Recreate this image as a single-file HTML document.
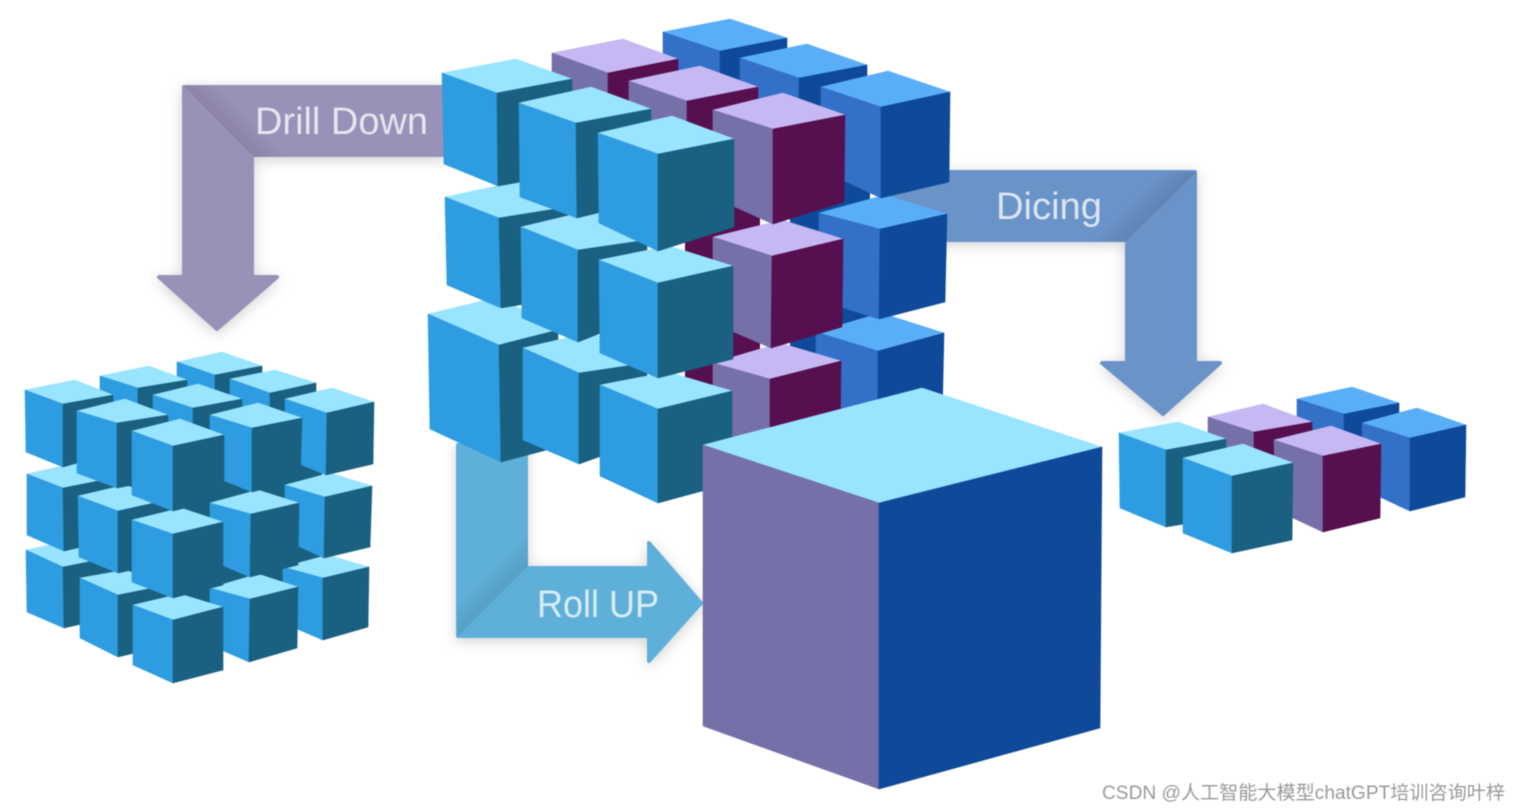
<!DOCTYPE html>
<html><head><meta charset="utf-8"><title>OLAP cube operations</title>
<style>
html,body{margin:0;padding:0;background:#fff;width:1520px;height:812px;overflow:hidden}
svg{display:block;filter:blur(.4px)}
.c polygon{stroke-width:.6;stroke-linejoin:round}
.a polygon:nth-child(1){fill:#99e4ff;stroke:#99e4ff}
.a polygon:nth-child(2){fill:#2e9ce0;stroke:#2e9ce0}
.a polygon:nth-child(3){fill:#1a6080;stroke:#1a6080}
.p polygon:nth-child(1){fill:#c6b8f2;stroke:#c6b8f2}
.p polygon:nth-child(2){fill:#7670a8;stroke:#7670a8}
.p polygon:nth-child(3){fill:#56104f;stroke:#56104f}
.b polygon:nth-child(1){fill:#5aaef8;stroke:#5aaef8}
.b polygon:nth-child(2){fill:#3370c8;stroke:#3370c8}
.b polygon:nth-child(3){fill:#0f4a9a;stroke:#0f4a9a}
.z polygon:nth-child(1){fill:#99e4ff;stroke:#99e4ff}
.z polygon:nth-child(2){fill:#7670a8;stroke:#7670a8}
.z polygon:nth-child(3){fill:#0f4a9a;stroke:#0f4a9a}
.lbl{font-family:"Liberation Sans",sans-serif;fill:#fff;fill-opacity:.76}
.wm{font-family:"Liberation Sans","Noto Sans CJK SC",sans-serif;fill:#999}
</style></head><body>
<svg width="1520" height="812" viewBox="0 0 1520 812" xmlns="http://www.w3.org/2000/svg">
<defs>
<filter id="sh" x="-20%" y="-20%" width="140%" height="140%"><feDropShadow dx="0" dy="3" stdDeviation="7" flood-color="#000" flood-opacity=".18"/></filter>
<linearGradient id="g1" gradientUnits="userSpaceOnUse" x1="218" y1="121" x2="236" y2="103"><stop offset="0" stop-color="#000" stop-opacity=".1"/><stop offset="1" stop-color="#000" stop-opacity="0"/></linearGradient>
<linearGradient id="g2" gradientUnits="userSpaceOnUse" x1="1161" y1="206" x2="1143" y2="188"><stop offset="0" stop-color="#000" stop-opacity=".1"/><stop offset="1" stop-color="#000" stop-opacity="0"/></linearGradient>
<linearGradient id="g3" gradientUnits="userSpaceOnUse" x1="492" y1="602" x2="474" y2="584"><stop offset="0" stop-color="#000" stop-opacity=".1"/><stop offset="1" stop-color="#000" stop-opacity="0"/></linearGradient>
</defs>

<!-- arrows -->
<g filter="url(#sh)">
<path d="M184 87H445V155H252V277H277L217 329L159 277H184Z" fill="#9a91b8" stroke="#9a91b8" stroke-width="4" stroke-linejoin="round"/>
</g>
<polygon points="184,86 254,157 292,157 222,86" fill="url(#g1)"/>
<text class="lbl" x="255" y="134" font-size="38" textLength="173" lengthAdjust="spacingAndGlyphs">Drill Down</text>

<g filter="url(#sh)">
<path d="M890 172H1195V363H1220L1163 414L1102 363H1127V240H890Z" fill="#6b93c8" stroke="#6b93c8" stroke-width="4" stroke-linejoin="round"/>
</g>
<polygon points="1196,172 1125,242 1087,242 1158,172" fill="url(#g2)"/>
<text class="lbl" x="996" y="219" font-size="38" textLength="106" lengthAdjust="spacingAndGlyphs">Dicing</text>

<g filter="url(#sh)">
<path d="M458 445H526V568H649V543L701 603L649 661V636H458Z" fill="#5fb0d8" stroke="#5fb0d8" stroke-width="4" stroke-linejoin="round"/>
</g>
<polygon points="457,637 528,566 528,528 457,599" fill="url(#g3)"/>
<text class="lbl" x="537" y="617" font-size="38" textLength="122" lengthAdjust="spacingAndGlyphs">Roll UP</text>

<!-- left cube -->
<polygon points="66,430 322,430 322,600 290,625 230,625 130,630 70,600" fill="#1a6080"/>
<g class="c a"><polygon points="177,362 222,352 262,366 215,375"/><polygon points="177,362 215,375 215,440 177,425"/><polygon points="215,375 262,366 262,425 215,440"/></g>
<g class="c a"><polygon points="100,376 149,366 187,380 138,388"/><polygon points="100,376 138,388 138,450 100,435"/><polygon points="138,388 187,380 187,440 138,450"/></g>
<g class="c a"><polygon points="230,379 275,370 316,383 270,393"/><polygon points="230,379 270,393 270,450 230,435"/><polygon points="270,393 316,383 316,440 270,450"/></g>
<g class="c a"><polygon points="26,550 73,540 113,557 63,567"/><polygon points="26,550 63,567 64,628 27,612"/><polygon points="63,567 113,557 113,617 64,628"/></g>
<g class="c a"><polygon points="27,474 75,463 113,478 63,488"/><polygon points="27,474 63,488 64,551 27,535"/><polygon points="63,488 113,478 113,540 64,551"/></g>
<g class="c a"><polygon points="25,390 75,380 113,395 63,404"/><polygon points="25,390 63,404 63,467 26,452"/><polygon points="63,404 113,395 113,453 63,467"/></g>
<g class="c a"><polygon points="153,395 198,384 242,399 193,408"/><polygon points="153,395 193,408 193,470 153,455"/><polygon points="193,408 242,399 242,460 193,470"/></g>
<g class="c a"><polygon points="283,567 328,555 369,567 323,578"/><polygon points="283,567 323,578 323,640 283,623"/><polygon points="323,578 369,567 368,627 323,640"/></g>
<g class="c a"><polygon points="285,485 330,473 372,486 325,497"/><polygon points="285,485 325,497 324,558 285,540"/><polygon points="325,497 372,486 370,547 324,558"/></g>
<g class="c a"><polygon points="285,399 332,388 374,402 327,413"/><polygon points="285,399 327,413 326,475 285,458"/><polygon points="327,413 374,402 373,464 326,475"/></g>
<g class="c a"><polygon points="80,578 125,570 168,585 118,595"/><polygon points="80,578 118,595 118,657 80,638"/><polygon points="118,595 168,585 168,645 118,657"/></g>
<g class="c a"><polygon points="78,496 125,485 168,500 118,511"/><polygon points="78,496 118,511 118,573 79,557"/><polygon points="118,511 168,500 168,562 118,573"/></g>
<g class="c a"><polygon points="77,411 125,399 168,415 117,423"/><polygon points="77,411 117,423 117,488 77,473"/><polygon points="117,423 168,415 168,478 117,488"/></g>
<g class="c a"><polygon points="210,588 258,574 298,587 250,599"/><polygon points="210,588 250,599 249,662 210,645"/><polygon points="250,599 298,587 297,648 249,662"/></g>
<g class="c a"><polygon points="210,503 258,490 299,503 251,514"/><polygon points="210,503 251,514 250,577 210,560"/><polygon points="251,514 299,503 298,565 250,577"/></g>
<g class="c a"><polygon points="210,415 258,403 302,418 252,428"/><polygon points="210,415 252,428 252,492 210,475"/><polygon points="252,428 302,418 300,480 252,492"/></g>
<g class="c a"><polygon points="133,605 180,594 223,607 173,620"/><polygon points="133,605 173,620 173,683 133,665"/><polygon points="173,620 223,607 223,670 173,683"/></g>
<g class="c a"><polygon points="132,520 181,508 223,522 173,534"/><polygon points="132,520 173,534 173,598 132,582"/><polygon points="173,534 223,522 223,585 173,598"/></g>
<g class="c a"><polygon points="132,431 180,419 224,435 173,446"/><polygon points="132,431 173,446 173,511 132,495"/><polygon points="173,446 224,435 224,498 173,511"/></g>

<!-- main cube: blue slice -->
<polygon points="790,150 870,150 870,420 790,420" fill="#0f4a9a"/>
<g class="c b"><polygon points="663,32 730,19 787,38 720,51"/><polygon points="663,32 720,51 720,130 663,110"/><polygon points="720,51 787,38 787,110 720,130"/></g>
<g class="c b"><polygon points="740,58 807,44 867,65 799,78"/><polygon points="740,58 799,78 799,170 740,150"/><polygon points="799,78 867,65 867,150 799,170"/></g>
<g class="c b"><polygon points="816,332 881,313 944,333 878,351"/><polygon points="816,332 878,351 878,440 816,420"/><polygon points="878,351 944,333 942,425 878,440"/></g>
<g class="c b"><polygon points="819,213 885,195 947,214 880,229"/><polygon points="819,213 880,229 879,319 819,300"/><polygon points="880,229 947,214 945,302 879,319"/></g>
<g class="c b"><polygon points="821,87 888,71 950,92 881,107"/><polygon points="821,87 881,107 881,198 821,170"/><polygon points="881,107 950,92 949,182 881,198"/></g>

<!-- main cube: purple slice -->
<polygon points="685,180 760,180 760,430 685,430" fill="#56104f"/>
<g class="c p"><polygon points="552,53 623,39 678,59 608,73"/><polygon points="552,53 608,73 608,150 552,130"/><polygon points="608,73 678,59 678,130 608,150"/></g>
<g class="c p"><polygon points="629,81 700,66 758,87 687,101"/><polygon points="629,81 687,101 687,190 629,170"/><polygon points="687,101 758,87 758,170 687,190"/></g>
<g class="c p"><polygon points="713,363 780,343 841,361 770,379"/><polygon points="713,363 770,379 770,476 713,450"/><polygon points="770,379 841,361 840,450 770,476"/></g>
<g class="c p"><polygon points="713,237 782,220 843,239 772,256"/><polygon points="713,237 772,256 771,348 713,323"/><polygon points="772,256 843,239 842,327 771,348"/></g>
<g class="c p"><polygon points="713,110 783,93 845,115 773,129"/><polygon points="713,110 773,129 773,224 713,197"/><polygon points="773,129 845,115 844,202 773,224"/></g>

<!-- main cube: cyan slice -->
<g class="c a"><polygon points="428,314 499,297 558,330 499,345"/><polygon points="428,314 499,345 501,462 430,429"/><polygon points="499,345 558,330 558,447 501,462"/></g>
<g class="c a"><polygon points="445,197 516,182 568,207 499,218"/><polygon points="445,197 499,218 501,308 447,285"/><polygon points="499,218 568,207 568,297 501,308"/></g>
<g class="c a"><polygon points="442,73 516,59 572,79 497,93"/><polygon points="442,73 497,93 498,186 444,164"/><polygon points="497,93 572,79 572,173 498,186"/></g>
<g class="c a"><polygon points="523,348 592,332 647,363 579,373"/><polygon points="523,348 579,373 579,464 523,440"/><polygon points="579,373 647,363 647,440 579,464"/></g>
<g class="c a"><polygon points="521,227 592,210 647,240 578,250"/><polygon points="521,227 578,250 578,342 522,318"/><polygon points="578,250 647,240 647,315 578,342"/></g>
<g class="c a"><polygon points="519,103 591,87 651,109 576,123"/><polygon points="519,103 576,123 577,218 520,197"/><polygon points="576,123 651,109 651,200 577,218"/></g>
<g class="c a"><polygon points="600,385 668,372 732,391 658,409"/><polygon points="600,385 658,409 658,503 600,476"/><polygon points="658,409 732,391 732,483 658,503"/></g>
<g class="c a"><polygon points="599,260 669,246 733,266 658,283"/><polygon points="599,260 658,283 658,378 600,353"/><polygon points="658,283 733,266 733,359 658,378"/></g>
<g class="c a"><polygon points="598,133 672,116 734,139 658,154"/><polygon points="598,133 658,154 658,251 599,223"/><polygon points="658,154 734,139 734,227 658,251"/></g>

<!-- big cube -->
<g class="c z"><polygon points="703,445 922,388 1102,447 879,503"/><polygon points="703,445 879,503 879,789 703,726"/><polygon points="879,503 1102,447 1100,728 879,789"/></g>

<!-- right slice -->
<g class="c b"><polygon points="1297,399 1352,387 1399,403 1344,414"/><polygon points="1297,399 1344,414 1344,470 1297,460"/><polygon points="1344,414 1399,403 1399,460 1344,470"/></g>
<g class="c b"><polygon points="1362,423 1417,408 1466,425 1410,438"/><polygon points="1362,423 1410,438 1410,511 1365,490"/><polygon points="1410,438 1466,425 1465,497 1410,511"/></g>
<g class="c p"><polygon points="1208,417 1263,404 1312,422 1254,432"/><polygon points="1208,417 1254,432 1254,470 1208,450"/><polygon points="1254,432 1312,422 1312,470 1254,470"/></g>
<g class="c p"><polygon points="1274,440 1331,426 1381,444 1323,456"/><polygon points="1274,440 1323,456 1323,532 1276,510"/><polygon points="1323,456 1381,444 1380,518 1323,532"/></g>
<g class="c a"><polygon points="1119,433 1178,422 1226,439 1166,450"/><polygon points="1119,433 1166,450 1166,527 1120,508"/><polygon points="1166,450 1226,439 1226,517 1166,527"/></g>
<g class="c a"><polygon points="1183,458 1243,444 1293,463 1232,476"/><polygon points="1183,458 1232,476 1232,553 1183,533"/><polygon points="1232,476 1293,463 1292,540 1232,553"/></g>

<text class="wm" x="1102" y="799" font-size="19" textLength="403" lengthAdjust="spacingAndGlyphs">CSDN @人工智能大模型chatGPT培训咨询叶梓</text>
</svg>
</body></html>
